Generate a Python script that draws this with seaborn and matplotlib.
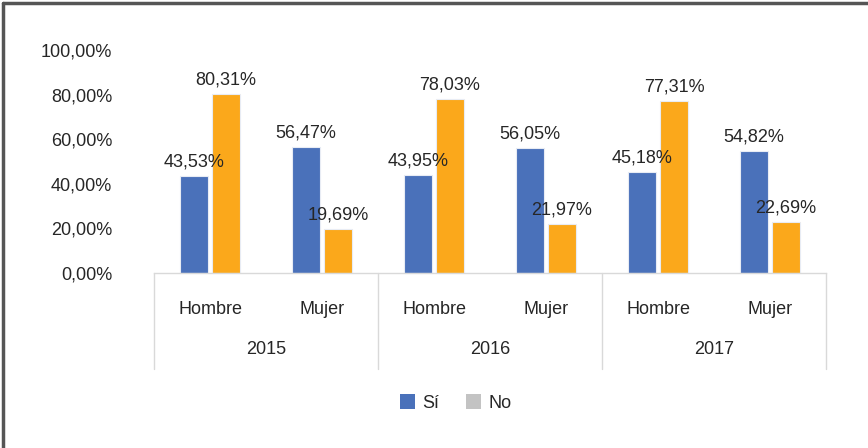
import matplotlib
matplotlib.use("Agg")
import matplotlib.pyplot as plt
import seaborn as sns
import pandas as pd
from matplotlib.lines import Line2D
from matplotlib.patches import Patch
from matplotlib import font_manager

years = ["2015", "2016", "2017"]
sexes = ["Hombre", "Mujer"]
si_values = [43.53, 56.47, 43.95, 56.05, 45.18, 54.82]
no_values = [80.31, 19.69, 78.03, 21.97, 77.31, 22.69]
series = ["Sí", "No"]
yticks = [0, 20, 40, 60, 80, 100]

cats = [f"{y}-{s}" for y in years for s in sexes]
df = pd.DataFrame({
    "cat": cats * 2,
    "serie": ["Sí"] * 6 + ["No"] * 6,
    "valor": si_values + no_values,
})

sns.set_theme(style="white")
names = {f.name for f in font_manager.fontManager.ttflist}
fam = "Liberation Sans Narrow" if "Liberation Sans Narrow" in names else "Liberation Sans"
plt.rcParams["font.family"] = [fam, "DejaVu Sans"]

blue = "#4A71BA"
orange = "#FBA81B"
gray_leg = "#C3C3C3"
txt = "#262626"

fig = plt.figure(figsize=(8.68, 4.48), dpi=100)
ax = fig.add_axes([154 / 868, 1 - 273 / 448, (828 - 156) / 868, (273 - 50) / 448])

sns.barplot(data=df, x="cat", y="valor", hue="serie", order=cats,
            hue_order=series, palette=[blue, orange], saturation=1,
            width=0.57, gap=0.15,
            edgecolor="#E8ECF4", linewidth=0.8, ax=ax, legend=False)

ax.set_ylim(0, 100)
ax.set_xlim(-0.5, 5.5)
ax.set_yticks(yticks)
ax.set_yticklabels([f"{v:.2f}".replace(".", ",") + "%" for v in yticks],
                   fontsize=13, color=txt)
ax.tick_params(axis="y", length=0, pad=30)
ax.set_xticks(range(6))
ax.set_xticklabels(sexes * 3, fontsize=13, color=txt)
ax.tick_params(axis="x", length=0, pad=20)
ax.set_xlabel("")
ax.set_ylabel("")
for s in ["top", "right", "left"]:
    ax.spines[s].set_visible(False)
ax.spines["bottom"].set_color("#D9D9D9")
ax.spines["bottom"].set_linewidth(1)

for cont, vals in zip(ax.containers, [si_values, no_values]):
    ax.bar_label(cont, labels=[f"{v:.2f}".replace(".", ",") + "%" for v in vals],
                 fontsize=13, color=txt, padding=4)

trans = ax.get_xaxis_transform()
for i, y in enumerate(years):
    ax.text(2 * i + 0.5, -0.345, y, transform=trans, ha="center", va="center",
            fontsize=13, color=txt)
for xb in [-0.5, 1.5, 3.5, 5.5]:
    ax.add_line(Line2D([xb, xb], [0, -0.43], transform=trans, color="#D9D9D9",
                       lw=1, clip_on=False))

handles = [Patch(facecolor=blue, edgecolor="none"),
           Patch(facecolor=gray_leg, edgecolor="none")]
fig.legend(handles, series, loc="center", bbox_to_anchor=(0.525, 0.1), ncol=2,
           frameon=False, fontsize=13, handlelength=0.85, handleheight=0.85,
           columnspacing=1.5, handletextpad=0.4, labelcolor=txt)

fig.add_artist(Line2D([3 / 868, 3 / 868], [0, 1 - 3 / 448], color="#555555", lw=2.5))
fig.add_artist(Line2D([3 / 868, 1], [1 - 3 / 448, 1 - 3 / 448], color="#555555", lw=2.5))

fig.savefig("out.png", dpi=100)
